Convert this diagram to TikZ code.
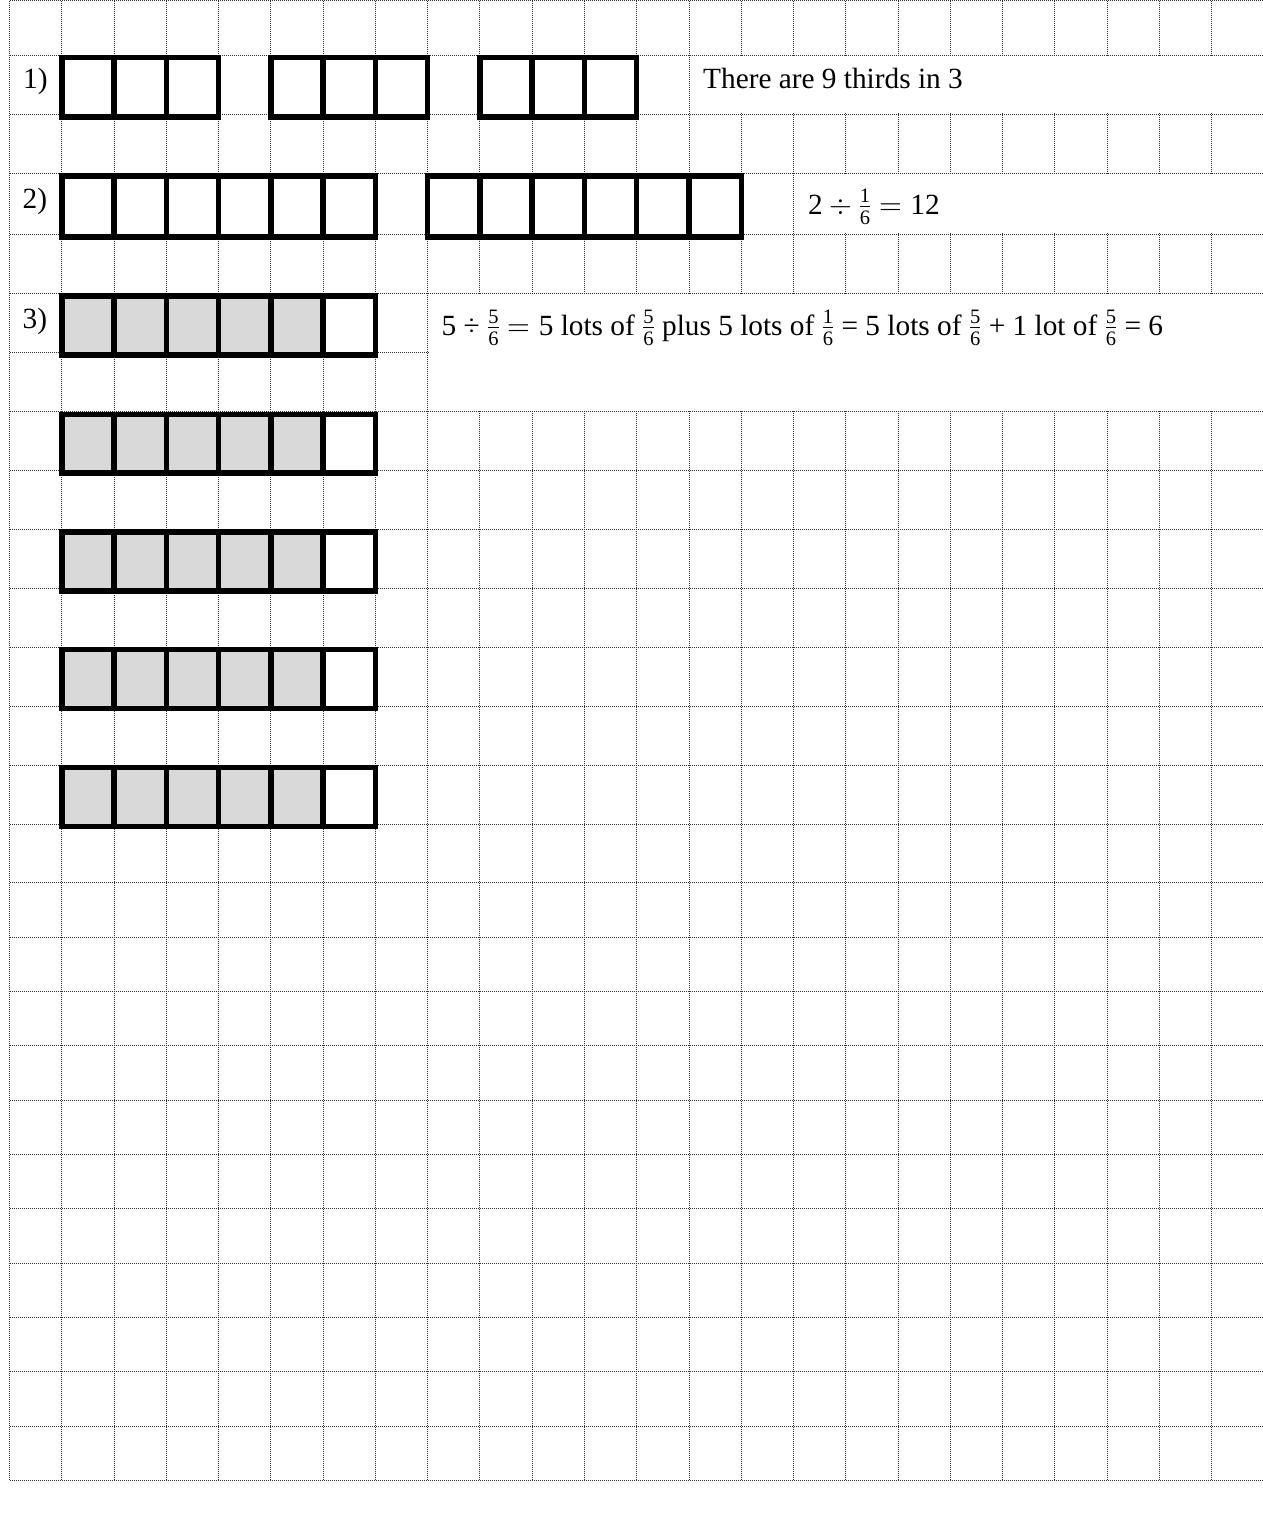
\documentclass[tikz,border=0pt]{standalone}
\usepackage{fontspec}
\usepackage{unicode-math}
\setmainfont{Liberation Serif}
\setmathfont{Latin Modern Math}
\setmathfont{Liberation Serif}[range=up/num]
\usetikzlibrary{positioning}
\definecolor{partgray}{HTML}{D9D9D9}
% one strip of equal parts: first column, top line, bottom line, parts, shaded parts
\newcommand{\fracstrip}[5]{%
  \pgfmathsetmacro{\stripx}{9.5+52.27*#1}%
  \pgfmathsetmacro{\stripy}{#2+2.6}%
  \pgfmathsetmacro{\stripY}{#3+2.6}%
  \ifnum#5>0
    \foreach \c in {1,...,#5}
      \fill[partfill] ({\stripx+52.27*(\c-1)},\stripy) rectangle ({\stripx+52.27*\c},\stripY);
  \fi
  \foreach \c in {1,...,#4}
    \draw[stripline] ({\stripx+52.27*(\c-1)},\stripy) rectangle ({\stripx+52.27*\c},\stripY);
}
\begin{document}
\begin{tikzpicture}[
    x=1pt, y=-1pt,
    every node/.style={font=\fontsize{29.3}{35}\selectfont, inner sep=0pt, anchor=base west},
    gridline/.style={black!80, line width=1pt, dash pattern=on 1pt off 1pt},
    stripline/.style={draw=black, line width=5.5pt, line join=miter},
    partfill/.style={fill=partgray},
]
\useasboundingbox (0,0) rectangle (1263,1515);
% squared paper
\foreach \k in {0,...,24}
  \draw[gridline] ({9.5+52.27*\k},0.5) -- ({9.5+52.27*\k},1480.3);
\foreach \y in {0.5,55,114.3,173.3,234.3,293.3,352.3,411.7,470.5,529.3,588.3,647,706,765,824,
                882.6,937,991.3,1045.6,1100,1154.3,1208.6,1263,1317.3,1371.6,1426,1480.3}
  \draw[gridline] (9.5,\y) -- (1264,\y);
% merged cells for the answers
\fill[white] (690,56) rectangle (1270,113.3);
\fill[white] (794.6,174.3) rectangle (1270,233.3);
\fill[white] (428.7,294.3) rectangle (1270,410.7);
% 1) three wholes cut in thirds
\fracstrip{1}{55}{114.3}{3}{0}
\fracstrip{5}{55}{114.3}{3}{0}
\fracstrip{9}{55}{114.3}{3}{0}
% 2) two wholes cut in sixths
\fracstrip{1}{173.3}{234.3}{6}{0}
\fracstrip{8}{173.3}{234.3}{6}{0}
% 3) five wholes, five sixths shaded in each
\fracstrip{1}{293.3}{352.3}{6}{5}
\fracstrip{1}{411.7}{470.5}{6}{5}
\fracstrip{1}{529.3}{588.3}{6}{5}
\fracstrip{1}{647}{706}{6}{5}
\fracstrip{1}{765}{824}{6}{5}
% labels and answers
\node (lab1) at (23,88.3) {1)};
\node (lab2) at (22.5,208.3) {2)};
\node (lab3) at (22.5,328.3) {3)};
\node (ans1) at (703,88.3) {There are 9 thirds in 3};
\node (ans2) at (808,214) {$2 \div \frac{1}{6} = 12$};
\node (ans3) at (441.5,335) {5 ÷ $\frac{5}{6} = 5$ lots of $\frac{5}{6}$ plus 5 lots of $\frac{1}{6}$ = 5 lots of $\frac{5}{6}$ + 1 lot of $\frac{5}{6}$ = 6};
\end{tikzpicture}
\end{document}
